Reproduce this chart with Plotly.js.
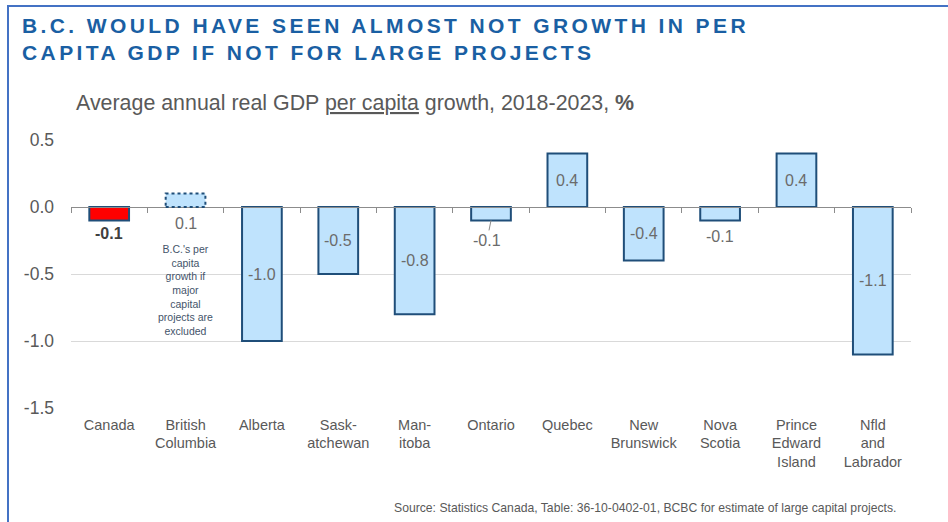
<!DOCTYPE html>
<html>
<head>
<meta charset="utf-8">
<script src="https://cdn.plot.ly/plotly-3.0.1.min.js"></script>
<style>
  html, body { margin: 0; padding: 0; background: #fff; }
  #wrap { position: relative; width: 948px; height: 522px; overflow: hidden; }
  #chart { width: 948px; height: 522px; }
  #frame { position: absolute; left: 7px; top: 5px; width: 960px; height: 540px;
           border-left: 2px solid #4472c4; border-top: 2px solid #4472c4; pointer-events: none; }
  .gtitle { letter-spacing: 3.4px; }
</style>
</head>
<body>
<div id="wrap">
  <div id="chart"></div>
  <div id="frame"></div>
</div>
<script>
// ---- data ----
const categories = ['Canada', 'British<br>Columbia', 'Alberta', 'Sask-<br>atchewan', 'Man-<br>itoba',
  'Ontario', 'Quebec', 'New<br>Brunswick', 'Nova<br>Scotia', 'Prince<br>Edward<br>Island', 'Nfld<br>and<br>Labrador'];
const values = [-0.1, 0.1, -1.0, -0.5, -0.8, -0.1, 0.4, -0.4, -0.1, 0.4, -1.1];
const yTickVals = [0.5, 0.0, -0.5, -1.0, -1.5];
const yTickText = ['0.5', '0.0', '-0.5', '-1.0', '-1.5'];
const titleText = 'B.C. WOULD HAVE SEEN ALMOST NOT GROWTH IN PER<br>CAPITA GDP IF NOT FOR LARGE PROJECTS';
const subtitleText = 'Average annual real GDP <u>per capita</u> growth, 2018-2023, <b>%</b>';
const bcNote = "B.C.'s per<br>capita<br>growth if<br>major<br>capital<br>projects are<br>excluded";
const sourceText = 'Source: Statistics Canada, Table: 36-10-0402-01, BCBC for estimate of large capital projects.';

// ---- styling ----
const FILL = '#bfe3fd';
const EDGE = '#1f4e79';
const RED = '#ff0000';
const GREY = '#6b6b6b';
const BAR_W = 0.52;
const FONT = 'Liberation Sans, Arial, sans-serif';

const fills = categories.map((c, i) => i === 0 ? RED : FILL);
const lineW = categories.map((c, i) => i === 1 ? 0 : 2);

const bars = {
  type: 'bar', x: categories, y: values, width: BAR_W,
  marker: { color: fills, line: { color: EDGE, width: lineW } },
  hoverinfo: 'skip', xaxis: 'x', yaxis: 'y'
};
// invisible trace to carry the zero-line axis with boundary ticks
const zeroAxisCarrier = {
  type: 'scatter', mode: 'none', x: categories, y: values.map(() => 0),
  xaxis: 'x2', yaxis: 'y', hoverinfo: 'skip', showlegend: false
};

const annotations = [];
values.forEach((v, i) => {
  const txt = v.toFixed(1);
  const cat = categories[i];
  if (Math.abs(v) >= 0.3) {
    annotations.push({ x: cat, y: v / 2, text: txt, showarrow: false,
      font: { family: FONT, size: 16, color: GREY } });
  } else if (cat === 'Ontario') {
    annotations.push({ x: cat, y: v, text: txt, showarrow: true, arrowhead: 0, arrowwidth: 1,
      arrowcolor: '#8a8a8a', ax: -4, ay: 20, standoff: 0,
      font: { family: FONT, size: 16, color: GREY } });
  } else {
    const isCanada = i === 0;
    annotations.push({ x: cat, y: Math.min(v, 0), yanchor: 'top', yshift: isCanada ? -3 : -6,
      text: isCanada ? '<b>' + txt + '</b>' : txt, showarrow: false,
      font: { family: FONT, size: 16, color: isCanada ? '#404040' : GREY } });
  }
});
annotations.push({ x: categories[1], y: 0, yanchor: 'top', yshift: -34, text: bcNote, showarrow: false,
  align: 'center', font: { family: FONT, size: 10.5, color: '#44546a' } });
annotations.push({ xref: 'paper', yref: 'paper', x: (74 - 71) / 840, y: 1 + (140 - 103) / 268,
  xanchor: 'left', yanchor: 'middle', text: subtitleText, showarrow: false,
  font: { family: FONT, size: 21.4, color: '#595959' } });
annotations.push({ xref: 'paper', yref: 'paper', x: (898 - 71) / 840, y: -(508 - 408) / 268,
  xanchor: 'right', yanchor: 'middle', text: sourceText, showarrow: false,
  font: { family: FONT, size: 12.2, color: '#595959' } });

// dotted outline for the B.C. bar, computed from its data value
const bcIdx = 1;
const shapes = [{
  type: 'rect', xref: 'x', yref: 'y',
  x0: bcIdx - BAR_W / 2, x1: bcIdx + BAR_W / 2, y0: 0, y1: values[bcIdx],
  line: { color: EDGE, width: 2, dash: 'dot' }, fillcolor: 'rgba(0,0,0,0)'
}];

const layout = {
  width: 948, height: 522,
  margin: { l: 71, r: 37, t: 140, b: 114 },
  paper_bgcolor: '#ffffff', plot_bgcolor: '#ffffff',
  showlegend: false,
  font: { family: FONT, color: '#595959' },
  title: { text: titleText, xref: 'container', yref: 'container', x: 22 / 948, xanchor: 'left',
    y: 1 - 33 / 522, yanchor: 'top',
    font: { family: FONT, size: 21, color: '#1a5fa3', weight: 'bold' } },
  xaxis: { type: 'category', range: [-0.5, 10.5], showline: false, ticks: '', showgrid: false,
    tickfont: { size: 14.5, color: '#595959' }, ticklabelstandoff: 6, fixedrange: true },
  xaxis2: { type: 'category', overlaying: 'x', anchor: 'free', position: 0.75, side: 'bottom',
    range: [-0.5, 10.5], showline: true, linecolor: '#8c8c8c', linewidth: 1,
    ticks: 'outside', tickson: 'boundaries', ticklen: 5, tickcolor: '#8c8c8c', tickwidth: 1,
    showticklabels: false, showgrid: false, matches: 'x' },
  yaxis: { range: [-1.5, 0.5], tickvals: yTickVals, ticktext: yTickText, showgrid: true,
    gridcolor: '#d9d9d9', gridwidth: 1, zeroline: false, showline: false, ticks: '',
    tickfont: { size: 17.5, color: '#595959' }, ticklabelstandoff: 16, fixedrange: true },
  annotations: annotations,
  shapes: shapes,
  bargap: 0.48
};

Plotly.newPlot('chart', [bars, zeroAxisCarrier], layout, { staticPlot: true, displayModeBar: false });
</script>
</body>
</html>
